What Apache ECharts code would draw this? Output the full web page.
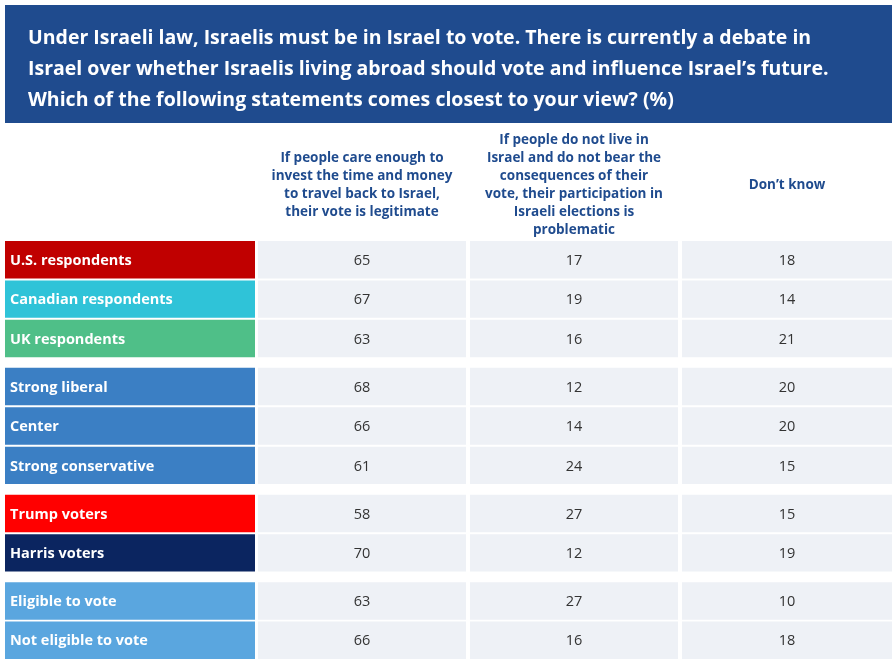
<!DOCTYPE html>
<html><head><meta charset="utf-8">
<script src="https://cdn.jsdelivr.net/npm/echarts@6/dist/echarts.min.js"></script>
<style>html,body{margin:0;padding:0;background:#fff}#main{width:896px;height:667px}</style>
</head><body><div id="main"></div>
<script>
// rows and their values
var rowLabels = ['U.S. respondents', 'Canadian respondents', 'UK respondents',
  'Strong liberal', 'Center', 'Strong conservative',
  'Trump voters', 'Harris voters',
  'Eligible to vote', 'Not eligible to vote'];
var rowGroups = [0, 0, 0, 1, 1, 1, 2, 2, 3, 3];
var rowColors = ['#c00000', '#2fc3d8', '#4fbf88', '#3b7fc4', '#3b7fc4', '#3b7fc4',
  '#ff0000', '#0b2560', '#5aa6df', '#5aa6df'];
var legitimate = [65, 67, 63, 68, 66, 61, 58, 70, 63, 66];
var problematic = [17, 19, 16, 12, 14, 24, 27, 12, 27, 16];
var dontKnow = [18, 14, 21, 20, 20, 15, 15, 19, 10, 18];
var columnHeaders = [
  'If people care enough to\ninvest the time and money\nto travel back to Israel,\ntheir vote is legitimate',
  'If people do not live in\nIsrael and do not bear the\nconsequences of their\nvote, their participation in\nIsraeli elections is\nproblematic',
  'Don\u2019t know'];

var colEdges = [[0, 250], [253, 461], [465, 673], [677, 887]];
var groupGap = 0.22;

var cells = [];
for (var r = 0; r < rowLabels.length; r++) {
  var y0 = r + rowGroups[r] * groupGap;
  cells.push([0, y0, rowLabels[r], rowColors[r]]);
  cells.push([1, y0, legitimate[r], '#eef1f6']);
  cells.push([2, y0, problematic[r], '#eef1f6']);
  cells.push([3, y0, dontKnow[r], '#eef1f6']);
}
var yMax = rowLabels.length + 3 * groupGap;

var chart = echarts.init(document.getElementById('main'));
var font = '"Open Sans", "Noto Sans", sans-serif';
chart.setOption({
  animation: false,
  grid: { left: 5, right: 4, top: 241, bottom: 6 },
  xAxis: { type: 'value', min: 0, max: 887, show: false },
  yAxis: { type: 'value', min: 0, max: yMax, inverse: true, show: false },
  graphic: [
    { type: 'rect', left: 5, top: 5, shape: { width: 887, height: 118 }, style: { fill: '#1f4b8e' } },
    { type: 'text', left: 28, top: 23, style: {
      text: 'Under Israeli law, Israelis must be in Israel to vote. There is currently a debate in\nIsrael over whether Israelis living abroad should vote and influence Israel\u2019s future.\nWhich of the following statements comes closest to your view? (%)',
      fill: '#fff', font: 'bold 19.5px ' + font, lineHeight: 31 } },
    { type: 'text', x: 362, y: 185, style: { text: columnHeaders[0], fill: '#1f4b8e', font: 'bold 13.5px ' + font, lineHeight: 18, align: 'center', verticalAlign: 'middle' } },
    { type: 'text', x: 574, y: 185, style: { text: columnHeaders[1], fill: '#1f4b8e', font: 'bold 13.5px ' + font, lineHeight: 18, align: 'center', verticalAlign: 'middle' } },
    { type: 'text', x: 787, y: 185, style: { text: columnHeaders[2], fill: '#1f4b8e', font: 'bold 13.5px ' + font, align: 'center', verticalAlign: 'middle' } }
  ],
  series: [{
    type: 'custom',
    data: cells,
    renderItem: function (params, api) {
      var c = api.value(0), y0 = api.value(1);
      var d = cells[params.dataIndex];
      var p0 = api.coord([colEdges[c][0], y0]);
      var p1 = api.coord([colEdges[c][1], y0 + 0.95]);
      var isLabel = c === 0;
      return {
        type: 'group',
        children: [
          { type: 'rect', shape: { x: p0[0], y: p0[1], width: p1[0] - p0[0], height: p1[1] - p0[1] },
            style: { fill: d[3] } },
          { type: 'text', style: {
            x: isLabel ? p0[0] + 5 : (p0[0] + p1[0]) / 2, y: (p0[1] + p1[1]) / 2 + 1,
            text: String(d[2]), fill: isLabel ? '#fff' : '#333',
            font: (isLabel ? 'bold 14.5px ' : '14.5px ') + font,
            align: isLabel ? 'left' : 'center', verticalAlign: 'middle' } }
        ]
      };
    }
  }]
});
</script></body></html>
